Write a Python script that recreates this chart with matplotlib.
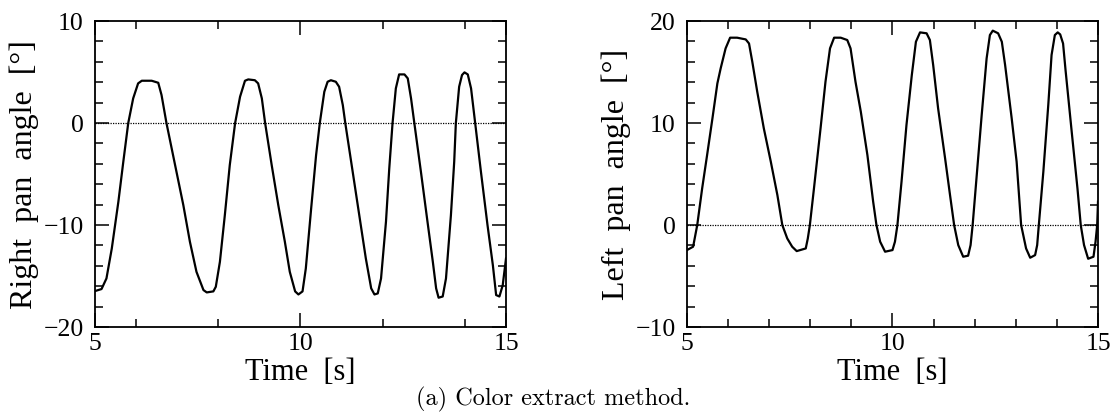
import numpy as np
import matplotlib
matplotlib.use("Agg")
import matplotlib.pyplot as plt

# right pan angle (left panel)
t_right = [5.00, 5.16, 5.28, 5.41, 5.57, 5.69, 5.81, 5.93, 6.05, 6.14, 6.38, 6.54, 6.62, 6.74,
           6.95, 7.15, 7.31, 7.47, 7.64, 7.72, 7.88, 7.94, 8.04, 8.16, 8.28, 8.41, 8.53, 8.65,
           8.73, 8.89, 8.97, 9.06, 9.14, 9.30, 9.46, 9.62, 9.74, 9.87, 9.95, 10.05, 10.13, 10.26,
           10.38, 10.47, 10.58, 10.66, 10.74, 10.86, 10.94, 11.03, 11.09, 11.27, 11.43, 11.59,
           11.72, 11.80, 11.88, 11.96, 12.08, 12.16, 12.24, 12.32, 12.40, 12.53, 12.61, 12.69,
           12.77, 12.93, 13.09, 13.22, 13.30, 13.36, 13.46, 13.54, 13.66, 13.74, 13.78, 13.86,
           13.93, 13.99, 14.07, 14.15, 14.25, 14.39, 14.55, 14.68, 14.76, 14.84, 14.92, 15.00]
angle_right = [-16.47, -16.27, -15.23, -12.29, -7.71, -3.79, 0.0, 2.42, 3.89, 4.15, 4.15, 3.95, 2.75, 0.0,
               -4.12, -8.04, -11.63, -14.58, -16.37, -16.6, -16.5, -16.05, -13.6, -9.02, -4.12, 0.0, 2.58, 4.15,
               4.28, 4.2, 3.89, 2.42, 0.0, -4.12, -8.04, -11.63, -14.58, -16.5, -16.8, -16.5, -14.25, -8.37,
               -3.14, 0.0, 3.07, 4.05, 4.2, 4.05, 3.56, 1.76, 0.0, -4.77, -9.02, -13.27,
               -16.2, -16.8, -16.7, -15.23, -9.67, -4.45, 0.0, 3.4, 4.77, 4.77, 4.38, 2.42,
               0.0, -4.77, -9.67, -13.6, -16.2, -17.12, -17.0, -15.23, -9.02, -3.79, 0.0, 3.56,
               4.71, 4.97, 4.77, 3.4, 0.0, -4.77, -10.0, -13.92, -16.86, -17.0, -15.9, -13.27]

# left pan angle (right panel)
t_left = [5.00, 5.15, 5.25, 5.37, 5.49, 5.62, 5.74, 5.82, 5.94, 6.05, 6.22, 6.43, 6.51, 6.59,
          6.71, 6.87, 7.04, 7.20, 7.32, 7.44, 7.56, 7.67, 7.89, 7.94, 7.99, 8.09, 8.25, 8.37,
          8.48, 8.58, 8.74, 8.90, 8.98, 9.10, 9.23, 9.39, 9.53, 9.61, 9.70, 9.82, 10.00, 10.06,
          10.12, 10.22, 10.34, 10.47, 10.57, 10.67, 10.83, 10.91, 10.99, 11.11, 11.28, 11.40,
          11.50, 11.60, 11.72, 11.84, 11.90, 11.95, 12.05, 12.17, 12.29, 12.37, 12.44, 12.57,
          12.66, 12.74, 12.90, 13.02, 13.13, 13.25, 13.35, 13.47, 13.52, 13.56, 13.67, 13.79,
          13.87, 13.95, 14.02, 14.08, 14.15, 14.21, 14.36, 14.50, 14.58, 14.66, 14.76, 14.89,
          14.94, 14.98, 15.00]
angle_left = [-2.45, -2.12, 0.0, 3.6, 6.86, 10.46, 13.89, 15.36, 17.32, 18.37, 18.37, 18.2, 17.8, 16.0,
              13.07, 9.48, 6.21, 2.94, 0.0, -1.31, -2.12, -2.55, -2.29, -1.31, 0.0, 3.6, 9.48, 14.05,
              17.32, 18.37, 18.37, 18.14, 17.32, 14.05, 11.1, 6.86, 2.29, 0.0, -1.63, -2.61, -2.45, -1.63,
              0.0, 4.25, 9.8, 14.7, 17.97, 18.89, 18.8, 18.14, 15.69, 11.44, 6.54, 2.94,
              0.0, -1.96, -3.1, -3.0, -1.96, 0.0, 4.9, 10.78, 16.34, 18.63, 19.06, 18.8,
              17.97, 15.69, 10.46, 6.21, 0.0, -2.29, -3.2, -2.94, -1.96, 0.0, 5.23, 11.77,
              16.67, 18.63, 18.89, 18.69, 17.8, 15.2, 9.15, 3.6, 0.0, -1.96, -3.3, -3.1,
              -1.63, 0.0, 2.3]

plt.rcParams['font.family'] = ['Liberation Serif', 'DejaVu Serif']
plt.rcParams['axes.linewidth'] = 1.3

fig = plt.figure(figsize=(11.17, 4.13), dpi=100)
ax1 = fig.add_axes([0.085, 0.208, 0.368, 0.741])
ax2 = fig.add_axes([0.615, 0.208, 0.368, 0.741])

panels = [
    (ax1, t_right, angle_right, (-20, 10), [-20, -10, 0, 10], [6, 8, 12, 14], 'Right  pan  angle  [°]'),
    (ax2, t_left, angle_left, (-10, 20), [-10, 0, 10, 20], list(range(6, 15)), 'Left  pan  angle  [°]'),
]

for ax, t, a, ylim, yt, xminor, ylab in panels:
    ax.axhline(0, color='black', lw=0.9, ls=(0, (1, 1)))
    ax.plot(t, a, color='black', lw=1.6)
    ax.set_xlim(5, 15)
    ax.set_ylim(*ylim)
    ax.set_xticks([5, 10, 15])
    ax.set_xticks(xminor, minor=True)
    ax.set_yticks(yt)
    ax.set_yticks(np.arange(ylim[0], ylim[1] + 1, 2), minor=True)
    ax.tick_params(which='both', direction='in', top=True, right=True, labelsize=18.5, width=1.1)
    ax.tick_params(which='major', length=10, pad=8)
    ax.tick_params(which='minor', length=6)
    ax.tick_params(axis='x', which='major', pad=4)
    ax.set_xlabel('Time  [s]', fontsize=22)
    ax.set_ylabel(ylab, fontsize=23)
    ax.xaxis.set_label_coords(0.5, -0.10)
    ax.yaxis.set_label_coords(-0.135, 0.5)

fig.text(0.495, 0.032, '(a) Color extract method.', family='cmr10', fontsize=17.5, ha='center', va='center')

fig.savefig('out.png', dpi=100)
